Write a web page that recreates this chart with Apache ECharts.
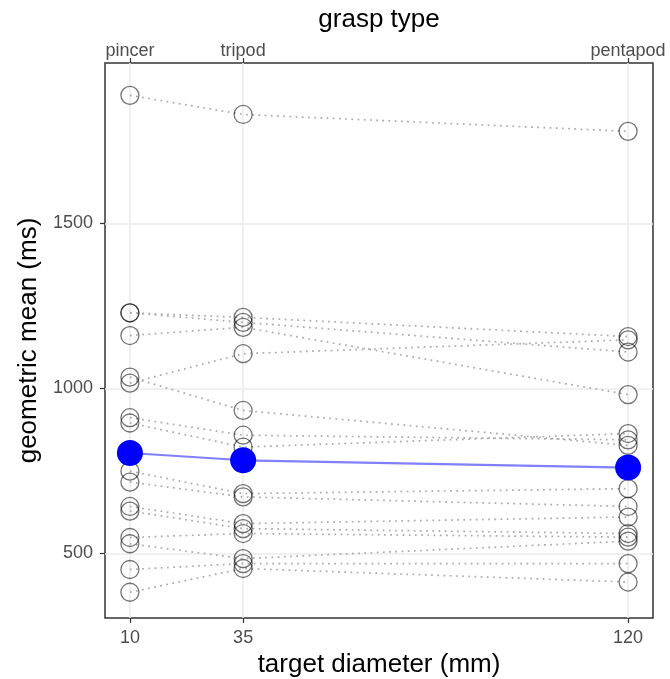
<!DOCTYPE html>
<html>
<head>
    <meta charset="UTF-8">
    <title>grasp type</title>
    <script src="https://cdn.jsdelivr.net/npm/echarts@6/dist/echarts.min.js"></script>
    <style>
        body { margin: 0; background: #fff; }
        #main { width: 670px; height: 679px; }
    </style>
</head>
<body>
<div id="main"></div>
<script>
    // target diameters (mm) and the grasp type for each
    var diameters = [10, 35, 120];
    var graspTypes = ['pincer', 'tripod', 'pentapod'];
    var yTicks = [500, 1000, 1500];

    // one value per participant, same order in each array
    var pincerMs   = [1888, 1229, 1229, 1160, 1016, 1034, 911, 895, 749, 716, 642, 628, 548, 529, 451, 382];
    var tripodMs   = [1830, 1215, 1200, 1185, 1105, 933, 858, 822, 681, 671, 590, 575, 560, 484, 469, 454];
    var pentapodMs = [1779, 1157, 1110, 981, 1147, 827, 844, 863, 696, 642, 610, 560, 549, 537, 469, 413];
    // geometric mean over participants
    var meanMs = [804, 782, 760];

    var fontFamily = 'Liberation Sans, Arial, sans-serif';
    var labelColor = '#4d4d4d';

    var series = [];
    for (var i = 0; i < pincerMs.length; i++) {
        series.push({
            type: 'line',
            data: [[diameters[0], pincerMs[i]], [diameters[1], tripodMs[i]], [diameters[2], pentapodMs[i]]],
            symbol: 'circle',
            symbolSize: 18,
            itemStyle: { color: 'rgba(0,0,0,0)', borderColor: 'rgba(0,0,0,0.55)', borderWidth: 1.3 },
            lineStyle: { color: '#a8a8a8', width: 1.7, type: [1.7, 4.5] },
            emphasis: { disabled: true },
            silent: true,
            z: 2
        });
    }
    series.push({
        type: 'line',
        data: diameters.map(function (d, k) { return [d, meanMs[k]]; }),
        symbol: 'circle',
        symbolSize: 26,
        itemStyle: { color: '#0000ff' },
        lineStyle: { color: '#7f7fff', width: 2.2 },
        silent: true,
        z: 5
    });

    var xCommon = {
        type: 'value',
        min: 4.5,
        max: 125.5,
        axisLine: { show: false },
        axisTick: { show: true, length: 5, customValues: diameters, lineStyle: { color: '#333', width: 1.2 } },
        splitLine: { show: false },
        nameLocation: 'middle',
        nameTextStyle: { fontSize: 26, color: '#000', fontFamily: fontFamily }
    };

    var option = {
        backgroundColor: '#ffffff',
        animation: false,
        grid: {
            left: 105, right: 17, top: 63, bottom: 61,
            outerBoundsMode: 'none',
            show: true, borderColor: '#333', borderWidth: 1.5
        },
        xAxis: [
            Object.assign({}, xCommon, {
                position: 'bottom',
                name: 'target diameter (mm)',
                nameGap: 34,
                axisLabel: { customValues: diameters, margin: 11, fontSize: 18, color: labelColor, fontFamily: fontFamily },
                splitLine: { show: true, lineStyle: { color: '#ebebeb', width: 1.6 } }
            }),
            Object.assign({}, xCommon, {
                position: 'top',
                name: 'grasp type',
                nameGap: 30,
                axisLabel: {
                    customValues: diameters, margin: 3, fontSize: 18, color: labelColor, fontFamily: fontFamily,
                    formatter: function (v) { return graspTypes[diameters.indexOf(v)]; }
                }
            })
        ],
        yAxis: {
            type: 'value',
            min: 304,
            max: 1986,
            name: 'geometric mean (ms)',
            nameLocation: 'middle',
            nameGap: 62,
            nameTextStyle: { fontSize: 26, color: '#000', fontFamily: fontFamily },
            axisLine: { show: false },
            axisTick: { show: true, length: 5, customValues: yTicks, lineStyle: { color: '#333', width: 1.2 } },
            axisLabel: {
                customValues: yTicks, margin: 12, fontSize: 18, color: labelColor, fontFamily: fontFamily,
                formatter: function (v) { return String(v); }
            },
            splitLine: { show: true, lineStyle: { color: '#ebebeb', width: 1.6 } }
        },
        series: series
    };

    var chart = echarts.init(document.getElementById('main'));
    chart.setOption(option);
</script>
</body>
</html>
